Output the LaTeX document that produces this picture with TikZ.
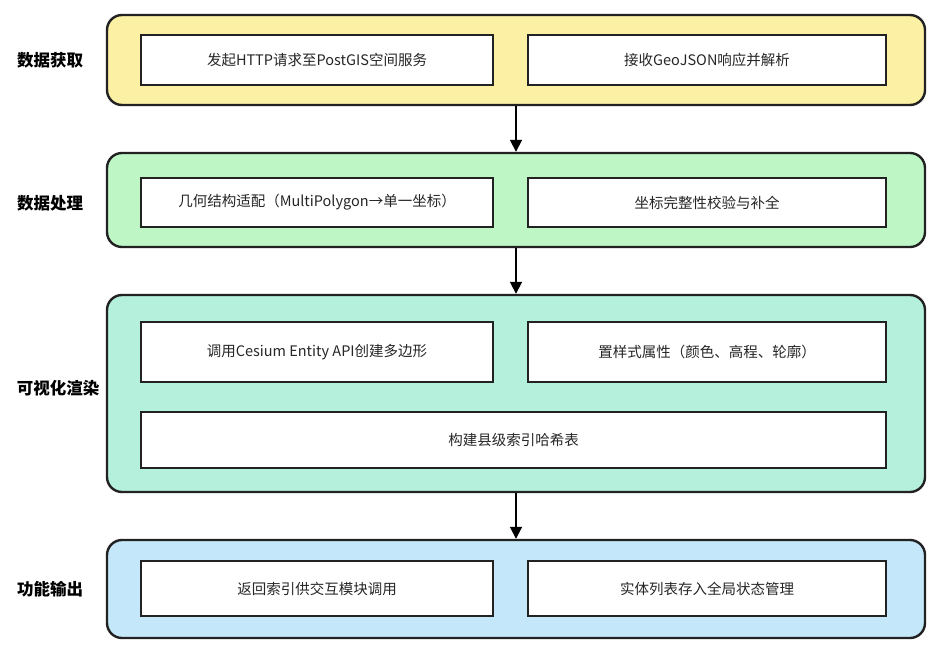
\documentclass[tikz,border=0pt]{standalone}
\usepackage{fontspec}
\setmainfont{Noto Sans CJK SC}
\usetikzlibrary{arrows.meta}
\definecolor{cyel}{HTML}{FCF0A4}
\definecolor{cgrn}{HTML}{BEF6C6}
\definecolor{cteal}{HTML}{B4F0DB}
\definecolor{cblue}{HTML}{C4E7FA}
\definecolor{edge}{HTML}{222222}
\tikzset{
  panel/.style={draw=edge, line width=2.4pt, rounded corners=15pt, inner sep=0pt},
  inbox/.style={draw=edge, line width=2.4pt, fill=white, inner sep=0pt, font=\fontsize{14.5}{16}\selectfont, text=black!85},
  lbl/.style={font=\fontsize{16.5}{18}\selectfont\bfseries, text=black},
  flow/.style={draw=black, line width=1.8pt, -{Triangle[width=12pt,length=12pt]}}
}
\begin{document}
\begin{tikzpicture}[x=1pt,y=-1pt]
\useasboundingbox (0,0) rectangle (941,655);
% panels
\node[panel, fill=cyel, minimum width=818pt, minimum height=90pt] (p1) at (516,60) {};
\node[panel, fill=cgrn, minimum width=818pt, minimum height=94pt] (p2) at (516,200) {};
\node[panel, fill=cteal, minimum width=818pt, minimum height=197pt] (p3) at (516,393.5) {};
\node[panel, fill=cblue, minimum width=818pt, minimum height=98pt] (p4) at (516,589) {};
% labels
\node[lbl] (l1) at (50,60) {数据获取};
\node[lbl] (l2) at (50,203) {数据处理};
\node[lbl] (l3) at (58,388) {可视化渲染};
\node[lbl] (l4) at (50,589) {功能输出};
% inner boxes
\node[inbox, minimum width=352pt, minimum height=50pt] (a1) at (317,60) {发起HTTP请求至PostGIS空间服务};
\node[inbox, minimum width=358pt, minimum height=50pt] (a2) at (707,60) {接收GeoJSON响应并解析};
\node[inbox, minimum width=352pt, minimum height=49pt] (b1) at (317,202.5) {几何结构适配（MultiPolygon→单一坐标）};
\node[inbox, minimum width=358pt, minimum height=49pt] (b2) at (707,202.5) {坐标完整性校验与补全};
\node[inbox, minimum width=352pt, minimum height=60pt] (c1) at (317,352) {调用Cesium Entity API创建多边形};
\node[inbox, minimum width=358pt, minimum height=60pt] (c2) at (707,352) {置样式属性（颜色、高程、轮廓）};
\node[inbox, minimum width=745pt, minimum height=56pt] (c3) at (513.5,440) {构建县级索引哈希表};
\node[inbox, minimum width=352pt, minimum height=55pt] (d1) at (317,588.5) {返回索引供交互模块调用};
\node[inbox, minimum width=358pt, minimum height=55pt] (d2) at (707,588.5) {实体列表存入全局状态管理};
% arrows
\draw[flow] (p1.south) -- (p2.north);
\draw[flow] (p2.south) -- (p3.north);
\draw[flow] (p3.south) -- (p4.north);
\end{tikzpicture}
\end{document}
